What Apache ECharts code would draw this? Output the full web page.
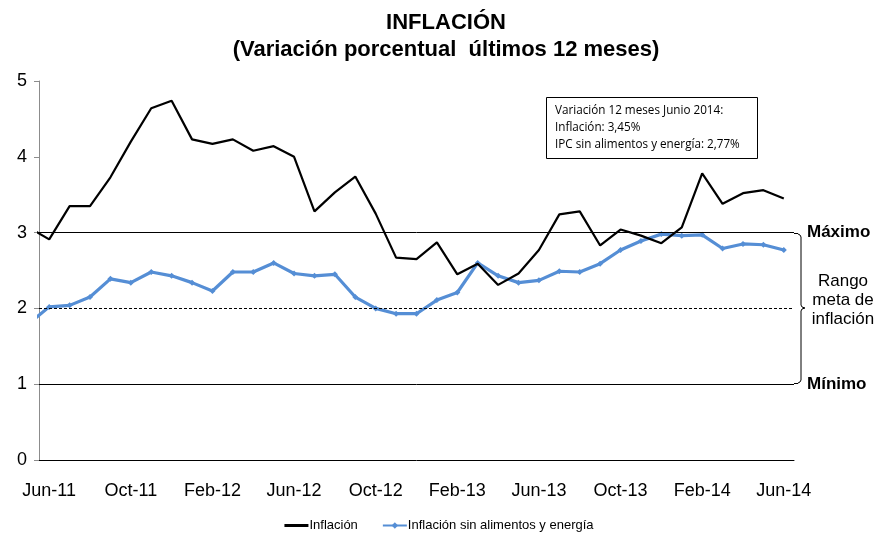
<!DOCTYPE html>
<html>
<head>
<meta charset="utf-8">
<script src="https://cdn.jsdelivr.net/npm/echarts@6/dist/echarts.min.js"></script>
<style>
  html, body { margin: 0; padding: 0; background: #fff; }
  #chart { width: 878px; height: 533px; }
</style>
</head>
<body>
<div id="chart"></div>
<script>
// meses (May-11 queda medio cortado a la izquierda, como en el original)
const months = [
  'May-11', 'Jun-11', 'Jul-11', 'Aug-11', 'Sep-11', 'Oct-11', 'Nov-11', 'Dec-11',
  'Jan-12', 'Feb-12', 'Mar-12', 'Apr-12', 'May-12', 'Jun-12', 'Jul-12', 'Aug-12',
  'Sep-12', 'Oct-12', 'Nov-12', 'Dec-12', 'Jan-13', 'Feb-13', 'Mar-13', 'Apr-13',
  'May-13', 'Jun-13', 'Jul-13', 'Aug-13', 'Sep-13', 'Oct-13', 'Nov-13', 'Dec-13',
  'Jan-14', 'Feb-14', 'Mar-14', 'Apr-14', 'May-14', 'Jun-14'
]
const shownLabels = ['Jun-11', 'Oct-11', 'Feb-12', 'Jun-12', 'Oct-12', 'Feb-13', 'Jun-13', 'Oct-13', 'Feb-14', 'Jun-14']

const inflacion = [
  3.07, 2.91, 3.35, 3.35, 3.73, 4.20, 4.64, 4.74,
  4.23, 4.17, 4.23, 4.08, 4.14, 4.00, 3.28, 3.53, 3.74, 3.25, 2.67, 2.65,
  2.87, 2.45, 2.59, 2.31, 2.46, 2.77, 3.24, 3.28, 2.83, 3.04, 2.96, 2.86,
  3.07, 3.78, 3.38, 3.52, 3.56, 3.45
]
const inflacionSae = [
  1.80, 2.02, 2.04, 2.15, 2.39, 2.34, 2.48, 2.43,
  2.34, 2.23, 2.48, 2.48, 2.60, 2.46, 2.43, 2.45, 2.15, 2.00, 1.93, 1.93,
  2.11, 2.21, 2.60, 2.43, 2.34, 2.37, 2.49, 2.48, 2.59, 2.77, 2.89, 2.98,
  2.96, 2.97, 2.79, 2.85, 2.84, 2.77
]
const rango = { max: 3, meta: 2, min: 1 }

const labelIdx = shownLabels.map(m => months.indexOf(m))
const toPairs = arr => arr.map((v, i) => [i, v])

const chart = echarts.init(document.getElementById('chart'))
const option = {
  animation: false,
  backgroundColor: '#fff',
  textStyle: { fontFamily: 'Liberation Sans, Arial, sans-serif' },
  title: {
    text: 'INFLACIÓN\n(Variación porcentual  últimos 12 meses)',
    left: 441,
    textAlign: 'center',
    top: 4,
    textStyle: { fontSize: 22, fontWeight: 'bold', color: '#000', lineHeight: 27 }
  },
  grid: { left: 39, right: 84, top: 81, bottom: 73 },
  legend: {
    bottom: -4,
    left: 'center',
    itemWidth: 24,
    itemHeight: 8,
    itemGap: 24,
    textStyle: { fontSize: 13, color: '#000', padding: [0, 0, 0, -4] },
    data: [
      { name: 'Inflación', icon: 'path://M0,3h24v3h-24z' },
      'Inflación sin alimentos y energía'
    ]
  },
  xAxis: {
    type: 'value',
    min: 0.5,
    max: months.length - 0.5,
    splitLine: { show: false },
    axisTick: { show: false },
    axisLine: { show: true, onZero: false, lineStyle: { color: '#000', width: 1 } },
    axisLabel: {
      customValues: labelIdx,
      formatter: v => months[Math.round(v)],
      fontSize: 18,
      color: '#000',
      margin: 22
    }
  },
  yAxis: {
    type: 'value',
    min: 0,
    max: 5,
    interval: 1,
    splitLine: { show: false },
    axisLine: { show: true, lineStyle: { color: '#8c8c8c' } },
    axisTick: { show: true, length: 5, lineStyle: { color: '#8c8c8c' } },
    axisLabel: { fontSize: 18, color: '#000', margin: 12 }
  },
  series: [
    {
      name: 'Inflación',
      type: 'line',
      data: toPairs(inflacion),
      clip: true,
      symbol: 'none',
      lineStyle: { color: '#000', width: 2.2 },
      itemStyle: { color: '#000' },
      z: 3,
      markLine: {
        silent: true,
        symbol: 'none',
        label: { show: false },
        data: [
          { yAxis: rango.max, lineStyle: { color: '#000', width: 1, type: 'solid' } },
          { yAxis: rango.meta, lineStyle: { color: '#000', width: 1, type: [3, 2] } },
          { yAxis: rango.min, lineStyle: { color: '#000', width: 1, type: 'solid' } }
        ]
      }
    },
    {
      name: 'Inflación sin alimentos y energía',
      type: 'line',
      data: toPairs(inflacionSae),
      clip: true,
      symbol: 'diamond',
      symbolSize: 6,
      lineStyle: { color: '#558ed5', width: 3.2 },
      itemStyle: { color: '#558ed5' },
      z: 2
    }
  ],
  graphic: [
    {
      type: 'rect',
      shape: { x: 546.5, y: 97.5, width: 211, height: 61 },
      style: { fill: '#fff', stroke: '#000', lineWidth: 1 }
    },
    {
      type: 'text',
      x: 555,
      y: 102,
      style: {
        text: 'Variación 12 meses Junio 2014:\nInflación: 3,45%\nIPC sin alimentos y energía: 2,77%',
        font: '11.7px "Open Sans", "Noto Sans", sans-serif',
        lineHeight: 17,
        fill: '#000'
      }
    },
    {
      type: 'text',
      x: 807,
      y: 224,
      style: { text: 'Máximo', font: 'bold 17px "Liberation Sans", Arial', fill: '#000' }
    },
    {
      type: 'text',
      x: 807,
      y: 376,
      style: { text: 'Mínimo', font: 'bold 17px "Liberation Sans", Arial', fill: '#000' }
    },
    {
      type: 'text',
      x: 843,
      y: 272,
      style: {
        text: 'Rango\nmeta de\ninflación',
        font: '17px "Liberation Sans", Arial',
        align: 'center',
        lineHeight: 19,
        fill: '#000'
      }
    },
    {
      type: 'line',
      shape: { x1: 794, y1: 233.5, x2: 798, y2: 233.5 },
      style: { stroke: '#000', lineWidth: 1 }
    },
    {
      type: 'line',
      shape: { x1: 794, y1: 383.5, x2: 798, y2: 383.5 },
      style: { stroke: '#000', lineWidth: 1 }
    },
    {
      type: 'polyline',
      shape: {
        points: [[798, 234], [800, 235], [801, 237], [801, 305], [802, 307], [805, 308],
                 [802, 309], [801, 311], [801, 380], [800, 382], [798, 383]]
      },
      style: { fill: 'none', stroke: '#000', lineWidth: 1 }
    }
  ]
}
chart.setOption(option)
</script>
</body>
</html>
